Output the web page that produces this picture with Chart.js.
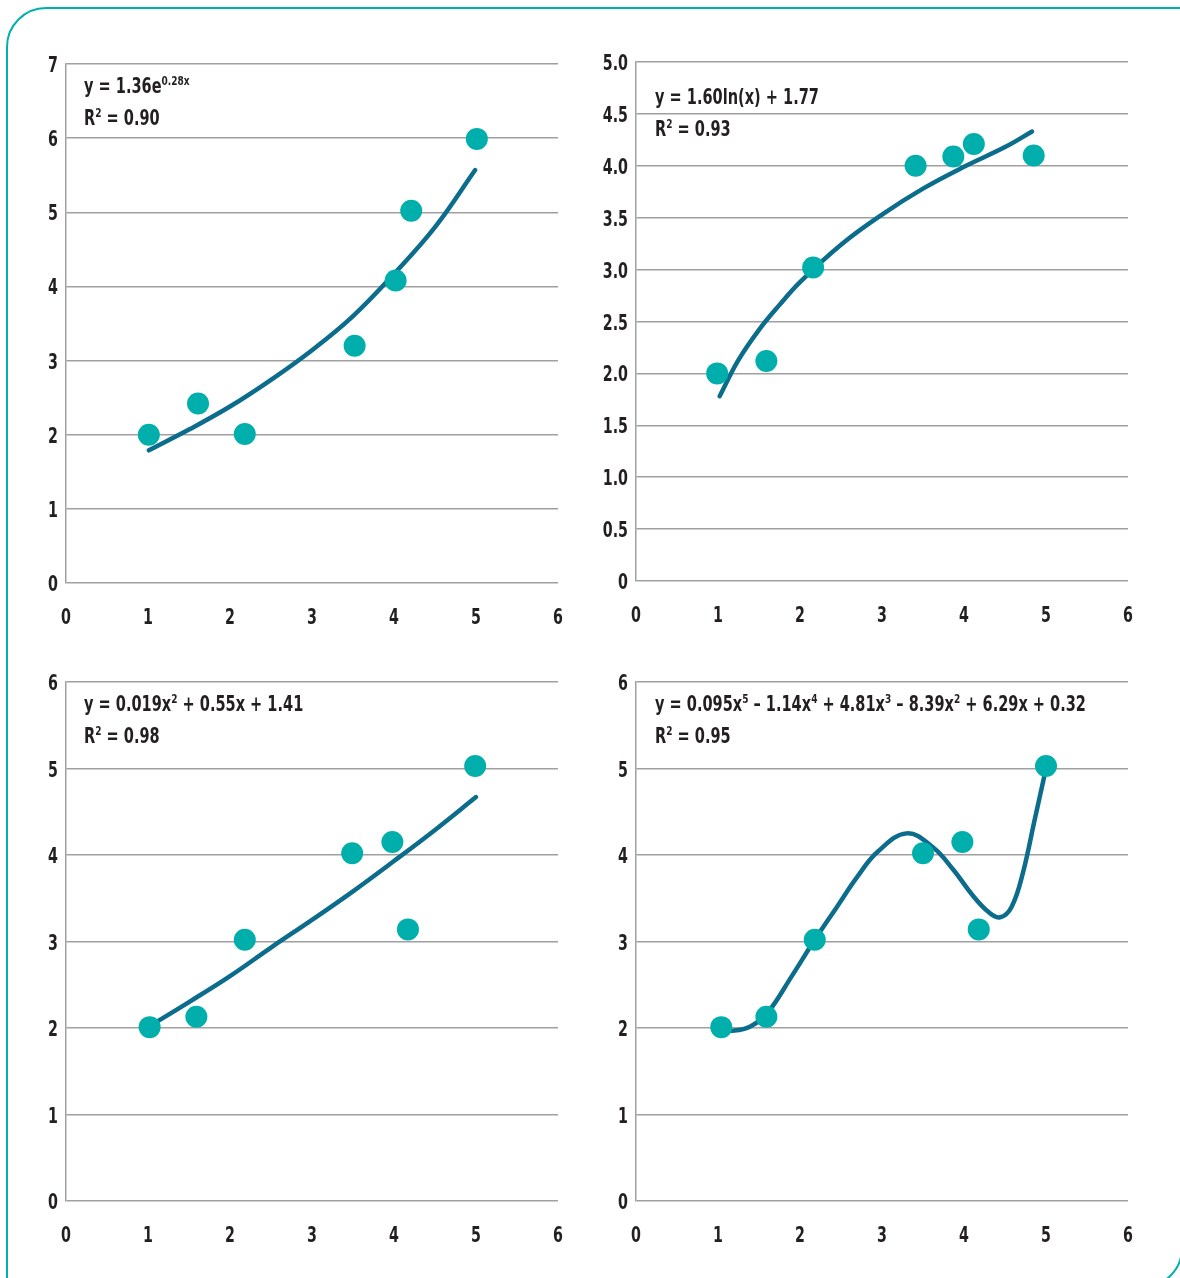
<!DOCTYPE html>
<html><head><meta charset="utf-8">
<script src="https://cdn.jsdelivr.net/npm/chart.js@4/dist/chart.umd.min.js"></script>
<style>
body{margin:0;background:#fff;width:1180px;height:1278px;overflow:hidden;position:relative;font-family:'DejaVu Sans Condensed','DejaVu Sans',sans-serif;}
#frame{position:absolute;left:6px;top:7px;width:1177px;height:1281px;border:2px solid #00b0ad;border-radius:40px 0 40px 0;box-sizing:border-box}
canvas{position:absolute}
.eq{position:absolute;font-size:21px;font-weight:bold;line-height:32px;color:#231f20;white-space:nowrap;transform:scaleX(0.77);transform-origin:0 0}
.eq sup{font-size:13px;line-height:0;vertical-align:8px}
</style></head>
<body>
<div id="frame"></div>
<canvas id="c1" width="562" height="589" style="left:16px;top:44px"></canvas>
<canvas id="c2" width="562" height="589" style="left:586px;top:42px"></canvas>
<canvas id="c3" width="562" height="589" style="left:16px;top:662px"></canvas>
<canvas id="c4" width="562" height="589" style="left:586px;top:662px"></canvas>
<div class="eq" style="left:84px;top:70px">y = 1.36e<sup>0.28x</sup><br>R<sup>2</sup> = 0.90</div>
<div class="eq" style="left:655px;top:81px">y = 1.60ln(x) + 1.77<br>R<sup>2</sup> = 0.93</div>
<div class="eq" style="left:84px;top:688px">y = 0.019x<sup>2</sup> + 0.55x + 1.41<br>R<sup>2</sup> = 0.98</div>
<div class="eq" style="left:655px;top:688px">y = 0.095x<sup>5</sup> – 1.14x<sup>4</sup> + 4.81x<sup>3</sup> – 8.39x<sup>2</sup> + 6.29x + 0.32<br>R<sup>2</sup> = 0.95</div>
<script>
// tick values
const xTicks = [0,1,2,3,4,5,6];
const yTicksExp = [0,1,2,3,4,5,6,7];
const yTicksLog = [0,0.5,1.0,1.5,2.0,2.5,3.0,3.5,4.0,4.5,5.0];
const yTicksPoly = [0,1,2,3,4,5,6];

// exponential panel
const expX = [1.01,1.61,2.18,3.52,4.02,4.21,5.01];
const expY = [2.0,2.42,2.01,3.2,4.08,5.02,5.99];
const expFitX = [1.01,1.5,2.0,2.5,3.0,3.5,4.0,4.5,4.99];
const expFitY = [1.79,2.07,2.38,2.74,3.14,3.6,4.17,4.8,5.57];

// logarithmic panel
const logX = [0.99,1.59,2.16,3.41,3.87,4.12,4.85];
const logY = [2.0,2.12,3.02,4.0,4.09,4.21,4.10];
const logFitX = [1.02,1.25,1.5,1.75,2.0,2.5,3.0,3.5,4.0,4.5,4.83];
const logFitY = [1.78,2.13,2.42,2.66,2.88,3.24,3.53,3.78,3.99,4.18,4.33];

// quadratic panel
const quadX = [1.02,1.59,2.18,3.49,3.98,4.17,4.99];
const quadY = [2.01,2.13,3.02,4.02,4.15,3.14,5.03];
const quadFitX = [1.05,1.5,2.0,2.5,3.0,3.5,4.0,4.5,5.0];
const quadFitY = [2.04,2.3,2.6,2.93,3.25,3.58,3.93,4.29,4.67];

// polynomial panel
const polyX = [1.04,1.59,2.18,3.5,3.98,4.18,5.0];
const polyY = [2.01,2.13,3.02,4.02,4.15,3.14,5.03];
const polyFitX = [1.0,1.2,1.4,1.6,1.9,2.18,2.45,2.7,2.95,3.3,3.62,3.87,4.1,4.3,4.44,4.58,4.72,4.86,5.0];
const polyFitY = [1.99,1.97,2.02,2.17,2.6,3.02,3.4,3.75,4.04,4.25,4.09,3.83,3.54,3.34,3.28,3.40,3.80,4.40,5.0];

const FONT = "'DejaVu Sans Condensed','DejaVu Sans',sans-serif";
const TEXT = '#231f20', GRID = '#a0a0a0';
const zip = (xs, ys) => xs.map((x,i)=>({x, y: ys[i]}));
const fmt = (v, d) => v === 0 ? '0' : Number(v).toFixed(d);

// draws tick labels (condensed) at the positions given by the chart's own scales
const tickLabels = {
  id: 'tickLabels',
  afterDraw(chart, args, opts) {
    const ctx = chart.ctx, xs = chart.scales.x, ys = chart.scales.y;
    ctx.save();
    ctx.fillStyle = TEXT;
    ctx.font = 'bold 22px ' + FONT;
    ctx.textBaseline = 'alphabetic';
    ctx.textAlign = 'center';
    xs.ticks.forEach(t => {
      ctx.save();
      ctx.translate(xs.getPixelForValue(t.value), ys.bottom + 41);
      ctx.scale(0.72, 1);
      ctx.fillText(String(t.value), 0, 0);
      ctx.restore();
    });
    ctx.textAlign = 'right';
    ys.ticks.forEach(t => {
      ctx.save();
      ctx.translate(ys.right - 8, ys.getPixelForValue(t.value) + 8);
      ctx.scale(0.72, 1);
      ctx.fillText(fmt(t.value, opts.decimals), 0, 0);
      ctx.restore();
    });
    ctx.restore();
  }
};

function makeChart(id, px, py, fx, fy, yTicks, decimals) {
  new Chart(document.getElementById(id), {
    type: 'scatter',
    data: { datasets: [
      { type:'scatter', data: zip(px,py), pointRadius:11, pointHoverRadius:11,
        pointBackgroundColor:'#00afab', pointBorderWidth:0, order:1 },
      { type:'line', data: zip(fx,fy), showLine:true, pointRadius:0, borderColor:'#0b6c8c',
        borderWidth:4.5, tension:0.4, borderCapStyle:'round', fill:false, order:2 }
    ]},
    options: {
      responsive:false, animation:false, devicePixelRatio:1,
      layout:{ padding:{ top:20, right:20, bottom:0, left:0 } },
      plugins:{ legend:{display:false}, tooltip:{enabled:false}, tickLabels:{ decimals } },
      scales:{
        x:{ type:'linear', min:0, max:6,
            afterBuildTicks: s => { s.ticks = xTicks.map(v=>({value:v})); },
            afterFit: s => { s.height = 50; },
            grid:{ display:false, drawTicks:false }, border:{ display:false },
            ticks:{ display:false } },
        y:{ type:'linear', min:0, max:yTicks[yTicks.length-1],
            afterBuildTicks: s => { s.ticks = yTicks.map(v=>({value:v})); },
            afterFit: s => { s.width = 50; },
            grid:{ color:GRID, lineWidth:1.5, drawTicks:false },
            border:{ display:true, color:GRID, width:1.5 },
            ticks:{ display:false } }
      }
    },
    plugins: [tickLabels]
  });
}
makeChart('c1', expX, expY, expFitX, expFitY, yTicksExp, 0);
makeChart('c2', logX, logY, logFitX, logFitY, yTicksLog, 1);
makeChart('c3', quadX, quadY, quadFitX, quadFitY, yTicksPoly, 0);
makeChart('c4', polyX, polyY, polyFitX, polyFitY, yTicksPoly, 0);
</script>
</body></html>
